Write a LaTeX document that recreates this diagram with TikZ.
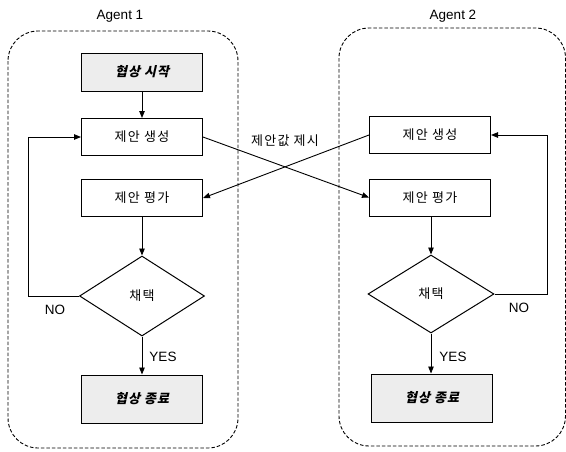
\documentclass[tikz,border=0pt]{standalone}
\usepackage{fontspec}
\setmainfont{Liberation Sans}
\newfontfamily\cjk[LetterSpace=10]{Noto Sans CJK KR}
\newfontfamily\cjkbi[FakeSlant=0.22,LetterSpace=8]{Noto Sans CJK KR}
\usetikzlibrary{shapes.geometric,arrows.meta}
\begin{document}
\begin{tikzpicture}[x=1pt,y=-1pt,
  procbox/.style={draw,line width=1pt,minimum width=121pt,minimum height=37pt,inner sep=0pt,font=\cjk\fontsize{13}{15}\selectfont},
  termbox/.style={procbox,fill=gray!14,minimum height=38pt,font=\cjkbi\bfseries\fontsize{13}{15}\selectfont},
  decision/.style={draw,line width=1pt,diamond,minimum width=125pt,minimum height=80pt,inner sep=0pt,font=\cjk\fontsize{13}{15}\selectfont},
  agentbox/.style={draw,dashed,dash pattern=on 3.5pt off 2pt,line width=0.9pt,rounded corners=30pt},
  flow/.style={line width=0.9pt,-{Triangle[length=7pt,width=5.5pt]}},
  lbl/.style={font=\fontsize{13.5}{15}\selectfont,inner sep=0pt}]
\useasboundingbox (0,0) rectangle (566,451);
% containers
\draw[agentbox] (8,31) rectangle (238,448);
\draw[agentbox] (339,28) rectangle (565.5,446);
\node[lbl] (ag1) at (120,16) {Agent 1};
\node[lbl] (ag2) at (453,16) {Agent 2};
% agent 1
\node[termbox] (a1start) at (142,72) {협상 시작};
\node[procbox] (a1gen) at (142,137) {제안 생성};
\node[procbox] (a1eval) at (142,198) {제안 평가};
\node[decision] (a1dec) at (142,296) {채택};
\node[termbox,minimum height=48pt] (a1end) at (142,399) {협상 종료};
% agent 2
\node[procbox] (a2gen) at (430,135) {제안 생성};
\node[procbox] (a2eval) at (430,197.5) {제안 평가};
\node[decision,minimum width=126pt,minimum height=78pt] (a2dec) at (431,294) {채택};
\node[termbox,minimum height=48pt] (a2end) at (432,398) {협상 종료};
% agent 1 flow
\draw[flow] (a1start) -- (a1gen);
\draw[flow] (a1eval) -- (a1dec);
\draw[flow] (a1dec) -- (a1end);
\coordinate (l1) at (28,296);
\coordinate (l2) at (28,137);
\draw[flow] (a1dec.west) -- (l1) -- (l2) -- (a1gen.west);
% agent 2 flow
\draw[flow] (a2eval.south -| a2dec.north) -- (a2dec);
\draw[flow] (a2dec.south) -- (a2dec.south |- a2end.north);
\coordinate (r1) at (547,294);
\coordinate (r2) at (547,135);
\draw[flow] (a2dec.east) -- (r1) -- (r2) -- (a2gen.east);
% exchange
\draw[flow] (a1gen.east) -- (a2eval.west);
\draw[flow] (a2gen.west) -- (a1eval.east);
\node[font=\cjk\fontsize{13}{15}\selectfont,inner sep=0pt] (offer) at (285,141) {제안값 제시};
% labels
\node[lbl] (no1) at (55,310) {NO};
\node[lbl] (yes1) at (163,357) {YES};
\node[lbl] (no2) at (519,308) {NO};
\node[lbl] (yes2) at (453,357) {YES};
\end{tikzpicture}
\end{document}
